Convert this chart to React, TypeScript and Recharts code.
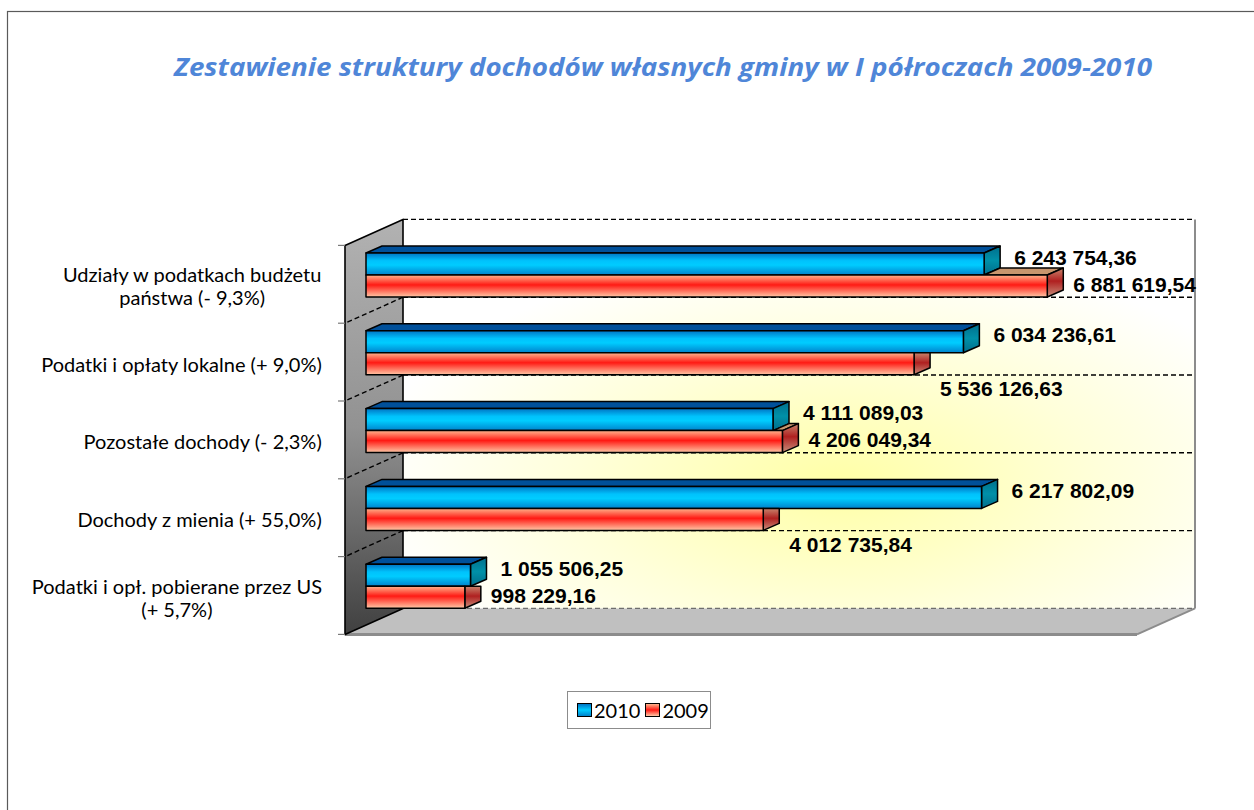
import React from 'react';
import { BarChart, Bar, XAxis, YAxis, LabelList } from 'recharts';

const title = 'Zestawienie struktury dochodów własnych gminy w I półroczach 2009-2010';
const categories = [
  'Udziały w podatkach budżetu\npaństwa (- 9,3%)',
  'Podatki i opłaty lokalne (+ 9,0%)',
  'Pozostałe dochody (- 2,3%)',
  'Dochody z mienia (+ 55,0%)',
  'Podatki i opł. pobierane przez US\n(+ 5,7%)',
];
const values2010 = [6243754.36, 6034236.61, 4111089.03, 6217802.09, 1055506.25];
const values2009 = [6881619.54, 5536126.63, 4206049.34, 4012735.84, 998229.16];
const seriesNames = ['2010', '2009'];
const axisMax = 8000000;

const data = categories.map((name, i) => ({ name, v2010: values2010[i], v2009: values2009[i] }));

// layout
const W = 1254;
const H = 810;
const PLOT = { left: 366, top: 236, width: 792, height: 389 };
const WALL_DX = 58; // depth of the 3d box
const WALL_DY = 26;
const FRONT_DX = -21; // bar plane -> front plane
const FRONT_DY = 9.4;
const BAR_DX = 16; // depth of a bar
const BAR_DY = 7;
const LABEL_RIGHT = 322;
const CAT_FONT = '20px Lato';

const fx0 = PLOT.left + FRONT_DX;
const fy0 = PLOT.top + FRONT_DY;
const fx1 = fx0 + PLOT.width;
const fy1 = fy0 + PLOT.height;
const bx0 = fx0 + WALL_DX;
const by0 = fy0 - WALL_DY;
const bx1 = fx1 + WALL_DX;
const by1 = fy1 - WALL_DY;
const band = PLOT.height / categories.length;
const pxPerUnit = PLOT.width / axisMax;

const fmt = (v: number) => {
  const [int, dec] = v.toFixed(2).split('.');
  return int.replace(/\B(?=(\d{3})+(?!\d))/g, ' ') + ',' + dec;
};

let ctx: CanvasRenderingContext2D | null = null;
const measure = (s: string) => {
  if (!ctx) ctx = document.createElement('canvas').getContext('2d');
  if (!ctx) return s.length * 9.5;
  ctx.font = CAT_FONT;
  return ctx.measureText(s).width;
};

const pts = (p: number[][]) => p.map((q) => q.join(',')).join(' ');

function Bar2010Shape(props: any) {
  const { x, y, width, height } = props;
  if (!(width > 0)) return null;
  const r = x + width;
  const b = y + height;
  return (
    <g strokeLinejoin="round">
      <polygon points={pts([[x, y], [r, y], [r + BAR_DX, y - BAR_DY], [x + BAR_DX, y - BAR_DY]])} fill="#00509a" stroke="#000" strokeWidth={1.5} />
      <polygon points={pts([[r, y], [r + BAR_DX, y - BAR_DY], [r + BAR_DX, b - BAR_DY], [r, b]])} fill="url(#side2010)" stroke="#000" strokeWidth={1.5} />
      <rect x={x} y={y} width={width} height={height} fill="url(#front2010)" stroke="#000" strokeWidth={1.5} />
    </g>
  );
}

function Bar2009Shape(props: any) {
  const { x, y, width, height, payload } = props;
  if (!(width > 0)) return null;
  const r = x + width;
  const b = y + height;
  const blueEnd = x + width * (payload.v2010 / payload.v2009);
  const longer = r > blueEnd;
  return (
    <g strokeLinejoin="round">
      {longer && (
        <polygon points={pts([[blueEnd, y], [r, y], [r + BAR_DX, y - BAR_DY], [blueEnd + BAR_DX, y - BAR_DY]])} fill="#c8966e" stroke="#000" strokeWidth={1.5} />
      )}
      <polygon
        points={pts(
          longer
            ? [[r, y], [r + BAR_DX, y - BAR_DY], [r + BAR_DX, b - BAR_DY], [r, b]]
            : [[r, y], [r + BAR_DX, y], [r + BAR_DX, b - BAR_DY], [r, b]]
        )}
        fill="url(#side2009)"
        stroke="#000"
        strokeWidth={1.5}
      />
      <rect x={x} y={y} width={width} height={height} fill="url(#front2009)" stroke="#000" strokeWidth={1.5} />
    </g>
  );
}

const valueLabel = (series: string) => (props: any) => {
  const vb = props.viewBox || {};
  const x = props.x ?? vb.x;
  const y = props.y ?? vb.y;
  const width = props.width ?? vb.width;
  const height = props.height ?? vb.height;
  const idx = props.index ?? 0;
  const end = x + width;
  let tx = end + 30;
  let ty = y + height / 2 - 7;
  if (series === '2009') {
    tx = end + 26;
    ty = y + height / 2 - 2;
    // Excel pushed the label under the bar when the 2010 bar sticks out past it
    if ((values2010[idx] - values2009[idx]) * pxPerUnit > BAR_DX) ty = y + height / 2 + 25;
  }
  return (
    <text x={tx} y={ty} dominantBaseline="central" fontFamily="'Liberation Sans', Arial, sans-serif" fontWeight="bold" fontSize={21} fill="#000">
      {fmt(Number(props.value))}
    </text>
  );
};

function CategoryTick(props: any) {
  const { y, payload } = props;
  const lines = String(payload.value).split('\n');
  const maxW = Math.max(...lines.map(measure));
  const cx = LABEL_RIGHT - maxW / 2;
  const lh = 23;
  const cy = y + FRONT_DY + 1.5;
  return (
    <text textAnchor="middle" fontFamily="Lato, 'Open Sans', sans-serif" fontSize={20} fill="#000">
      {lines.map((l, i) => (
        <tspan key={i} x={cx} y={cy + (i - (lines.length - 1) / 2) * lh} dominantBaseline="central">
          {l}
        </tspan>
      ))}
    </text>
  );
}

function Background() {
  const grid = [0, 1, 2, 3, 4].map((k) => by0 + k * band);
  return (
    <svg width={W} height={H} style={{ position: 'absolute', left: 0, top: 0 }}>
      <defs>
        <linearGradient id="front2010" x1="0" y1="0" x2="0" y2="1">
          <stop offset="0" stopColor="#0074c4" />
          <stop offset="0.35" stopColor="#00c2fc" />
          <stop offset="0.55" stopColor="#00ccff" />
          <stop offset="1" stopColor="#0082cc" />
        </linearGradient>
        <linearGradient id="side2010" x1="0" y1="0" x2="0" y2="1">
          <stop offset="0" stopColor="#006e8c" />
          <stop offset="0.5" stopColor="#0090a8" />
          <stop offset="1" stopColor="#006e8c" />
        </linearGradient>
        <linearGradient id="front2009" x1="0" y1="0" x2="0" y2="1">
          <stop offset="0" stopColor="#ffb48c" />
          <stop offset="0.45" stopColor="#ff1a14" />
          <stop offset="1" stopColor="#ffc8a6" />
        </linearGradient>
        <linearGradient id="side2009" x1="0" y1="0" x2="0" y2="1">
          <stop offset="0" stopColor="#c8846c" />
          <stop offset="0.45" stopColor="#b02020" />
          <stop offset="1" stopColor="#c8907c" />
        </linearGradient>
        <radialGradient id="wallGrad" cx="0.55" cy="0.68" r="0.6">
          <stop offset="0" stopColor="#ffffa6" />
          <stop offset="0.55" stopColor="#ffffda" />
          <stop offset="1" stopColor="#ffffff" />
        </radialGradient>
        <linearGradient id="leftWall" x1="0" y1="0" x2="0" y2="1">
          <stop offset="0" stopColor="#b2b2b2" />
          <stop offset="0.5" stopColor="#929292" />
          <stop offset="1" stopColor="#404040" />
        </linearGradient>
      </defs>
      <rect x={7.5} y={11.5} width={1300} height={900} fill="#fff" stroke="#5a5a5a" strokeWidth={1.2} />
      <text x={663} y={76} textAnchor="middle" fontFamily="'Open Sans', sans-serif" fontWeight="bold" fontStyle="italic" fontSize={25} fill="#4f86d8" textLength={978} lengthAdjust="spacingAndGlyphs">
        {title}
      </text>
      <polygon points={pts([[bx0, by0], [bx1, by0], [bx1, by1], [bx0, by1]])} fill="url(#wallGrad)" />
      <line x1={bx1} y1={by0} x2={bx1} y2={by1} stroke="#8c8c8c" strokeWidth={2} />
      {grid.map((gy, k) => (
        <line key={k} x1={bx0} y1={gy} x2={bx1} y2={gy} stroke="#000" strokeWidth={1.4} strokeDasharray="5 3" />
      ))}
      <polygon points={pts([[fx0, fy1], [fx1, fy1], [bx1, by1], [bx0, by1]])} fill="#c0c0c0" />
      <line x1={bx0} y1={by1} x2={bx1} y2={by1} stroke="#6e6e6e" strokeWidth={1.2} strokeDasharray="5 3" />
      <line x1={fx1} y1={fy1} x2={bx1} y2={by1} stroke="#8c8c8c" strokeWidth={2} />
      <line x1={fx0} y1={fy1} x2={fx1} y2={fy1} stroke="#8c8c8c" strokeWidth={3} />
      <polygon points={pts([[fx0, fy0], [bx0, by0], [bx0, by1], [fx0, fy1]])} fill="url(#leftWall)" stroke="#000" strokeWidth={1.6} strokeLinejoin="round" />
      {[1, 2, 3, 4].map((k) => (
        <line key={k} x1={bx0} y1={by0 + k * band} x2={fx0} y2={fy0 + k * band} stroke="#000" strokeWidth={1.4} strokeDasharray="5 3" />
      ))}
      {[0, 1, 2, 3, 4, 5].map((k) => (
        <line key={k} x1={fx0 - 7} y1={fy0 + k * band} x2={fx0} y2={fy0 + k * band} stroke="#7a7a7a" strokeWidth={1.2} />
      ))}
    </svg>
  );
}

function LegendBox() {
  const item = (name: string, grad: string) => (
    <div key={name} style={{ display: 'flex', alignItems: 'center', marginRight: 5 }}>
      <div style={{ width: 13, height: 12, border: '1.5px solid #000', background: grad, marginRight: 2 }} />
      <span>{name}</span>
    </div>
  );
  return (
    <div
      style={{
        position: 'absolute',
        left: 567,
        top: 691,
        width: 144,
        height: 38,
        border: '1px solid #8c8c8c',
        background: '#fff',
        display: 'flex',
        alignItems: 'center',
        paddingLeft: 9,
        boxSizing: 'border-box',
        fontFamily: "Lato, 'Open Sans', sans-serif",
        fontSize: 20,
        color: '#000',
      }}
    >
      {item(seriesNames[0], 'linear-gradient(#0074c4, #00ccff 50%, #0082cc)')}
      {item(seriesNames[1], 'linear-gradient(#ffb48c, #ff1a14 50%, #ffc8a6)')}
    </div>
  );
}

export default function App() {
  return (
    <div style={{ position: 'absolute', left: 0, top: 0, width: W, height: H, overflow: 'hidden' }}>
      <Background />
      <div style={{ position: 'absolute', left: 0, top: 0 }}>
        <BarChart
          width={W}
          height={H}
          data={data}
          layout="vertical"
          margin={{ top: PLOT.top, right: W - PLOT.left - PLOT.width, bottom: H - PLOT.top - PLOT.height, left: 0 }}
          barSize={22}
          barGap={0}
        >
          <XAxis type="number" domain={[0, axisMax]} hide />
          <YAxis type="category" dataKey="name" width={PLOT.left} axisLine={false} tickLine={false} tick={CategoryTick} interval={0} />
          <Bar dataKey="v2010" name={seriesNames[0]} shape={Bar2010Shape} isAnimationActive={false}>
            <LabelList dataKey="v2010" content={valueLabel('2010')} />
          </Bar>
          <Bar dataKey="v2009" name={seriesNames[1]} shape={Bar2009Shape} isAnimationActive={false}>
            <LabelList dataKey="v2009" content={valueLabel('2009')} />
          </Bar>
        </BarChart>
      </div>
      <LegendBox />
    </div>
  );
}
